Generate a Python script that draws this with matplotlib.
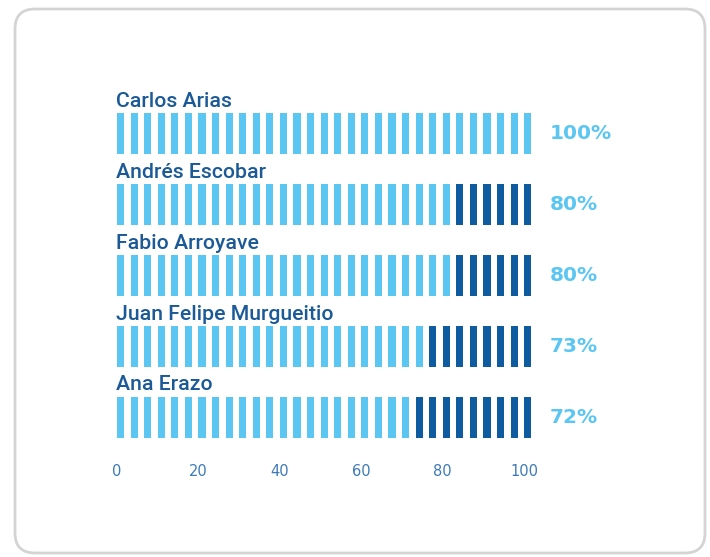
import matplotlib.pyplot as plt
from matplotlib.patches import FancyBboxPatch
import numpy as np

# datos
names = ['Carlos Arias', 'Andrés Escobar', 'Fabio Arroyave',
         'Juan Felipe Murgueitio', 'Ana Erazo']
values = [100, 80, 80, 73, 72]
ticks = [0, 20, 40, 60, 80, 100]

light = '#5BC6F1'
dark = '#0E5C9F'
name_color = '#1B5A97'
tick_color = '#3D7AB8'

W, H = 710, 557
fig = plt.figure(figsize=(W / 100, H / 100), dpi=100)

# marco redondeado
bg = fig.add_axes([0, 0, 1, 1])
bg.set_xlim(0, W)
bg.set_ylim(H, 0)
bg.axis('off')
bg.add_patch(FancyBboxPatch((15, 9), 690, 544, boxstyle='round,pad=0,rounding_size=20',
                            fc='white', ec='#d4d4d4', lw=2))

# ejes: 0 -> x=117px, 100 -> x=524px ; fila i centrada en 134 + 70.85*i px
sx = 4.07
ry = 70.85
x0, x1 = 100, 560
y0, y1 = 80, 450
ax = fig.add_axes([x0 / W, 1 - y1 / H, (x1 - x0) / W, (y1 - y0) / H])
ax.set_xlim((x0 - 117) / sx, (x1 - 117) / sx)
ax.set_ylim((y1 - 134) / ry, (y0 - 134) / ry)
ax.patch.set_alpha(0)
for s in ax.spines.values():
    s.set_visible(False)

n_stripes = 31
period = 13.57 / sx
width = 7.2 / sx
bar_h = 41 / ry
pos = np.arange(n_stripes) * period

for i, (name, v) in enumerate(zip(names, values)):
    colors = [light if p < v + 0.5 else dark for p in pos]
    ax.bar(pos, bar_h, bottom=i - bar_h / 2, width=width, align='edge',
           color=colors, linewidth=0)
    ax.text(-0.3, i - 27 / ry, name, fontsize=15.3, family='Roboto', weight='medium',
            color=name_color, ha='left', va='baseline')
    ax.text(106.3, i, f'{v}%', fontsize=14.5, family='DejaVu Sans', weight='bold',
            color=light, ha='left', va='center')

ax.set_yticks([])
ax.set_xticks(ticks)
ax.set_xticklabels([str(t) for t in ticks], fontsize=10.5, color=tick_color,
                   family='DejaVu Sans')
ax.tick_params(axis='x', length=0, pad=10)

plt.savefig('out.png', dpi=100)
